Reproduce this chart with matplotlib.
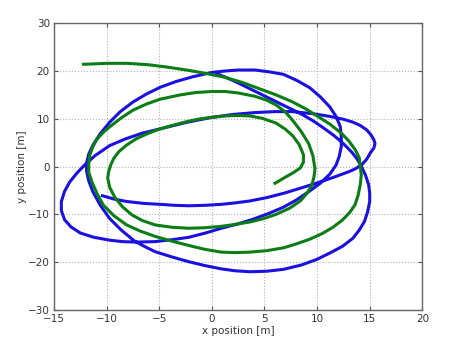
import matplotlib
matplotlib.use("Agg")
import matplotlib.pyplot as plt

# Blue trajectory points (x, y)
blue_pts = [
    (0.5, 19.4), (1.5, 18.5), (2.5, 17.5), (3.6, 16.3), (4.8, 15.0), (6.0, 13.7), (7.2, 12.4),
    (8.5, 11.0), (9.6, 9.6), (10.6, 8.1), (11.6, 6.5), (12.5, 4.8), (13.3, 3.0), (13.8, 1.6),
    (14.2, 0.1), (14.6, -1.8), (14.9, -3.8), (15.0, -5.6), (15.0, -7.3), (14.8, -9.5),
    (14.5, -11.5), (14.0, -13.3), (13.4, -15.0), (12.4, -16.7), (11.2, -18.1), (10.0, -19.4),
    (8.5, -20.6), (6.8, -21.5), (5.2, -21.9), (3.6, -22.0), (2.2, -21.8), (0.9, -21.4),
    (-0.7, -20.7), (-2.2, -19.9), (-3.8, -18.9), (-5.4, -17.8), (-6.5, -16.6), (-7.4, -15.5),
    (-8.6, -13.3), (-9.7, -10.9), (-10.6, -8.1), (-11.3, -5.3), (-11.7, -3.0), (-11.9, -1.0),
    (-11.9, 0.8), (-11.7, 2.6), (-11.3, 4.5), (-10.6, 6.9), (-9.7, 9.3), (-8.7, 11.5),
    (-7.5, 13.5), (-6.2, 15.2), (-4.9, 16.6), (-3.4, 17.8), (-1.8, 18.8), (0.0, 19.7),
    (1.3, 20.0), (2.5, 20.2), (4.1, 20.2), (5.5, 19.8), (6.8, 19.3), (8.1, 18.0), (9.3, 16.5),
    (10.3, 14.6), (11.2, 12.5), (11.8, 10.5), (12.2, 8.4), (12.3, 6.2), (12.3, 4.2),
    (12.1, 2.1), (11.8, 0.3), (11.2, -1.6), (10.3, -3.5), (9.3, -5.1), (8.1, -6.9),
    (6.8, -8.5), (5.3, -9.9), (3.8, -11.1), (2.3, -12.1), (0.9, -12.9), (-0.6, -13.9),
    (-2.2, -14.8), (-3.8, -15.3), (-5.4, -15.7), (-7.2, -15.8), (-8.5, -15.7), (-9.7, -15.4),
    (-11.2, -14.8), (-12.5, -13.9), (-13.4, -12.6), (-14.0, -11.1), (-14.3, -9.2),
    (-14.3, -7.3), (-14.0, -5.2), (-13.5, -3.2), (-12.8, -1.3), (-12.1, 0.3), (-11.1, 2.3),
    (-9.7, 4.4), (-8.2, 5.8), (-6.6, 7.0), (-4.9, 7.9), (-2.5, 9.2), (0.0, 10.3), (2.0, 10.9),
    (4.1, 11.3), (6.0, 11.5), (7.6, 11.5), (9.5, 11.1), (11.2, 10.5), (12.5, 9.9),
    (13.4, 9.3), (14.1, 8.6), (14.7, 7.7), (15.1, 6.7), (15.4, 5.6), (15.5, 4.8), (15.4, 3.9),
    (15.1, 3.0), (14.7, 1.5), (14.2, 0.3), (13.6, -0.5), (13.1, -1.0), (11.5, -2.3),
    (9.9, -3.5), (8.3, -4.6), (6.8, -5.6), (5.2, -6.5), (3.6, -7.2), (2.2, -7.6), (0.9, -7.9),
    (-0.6, -8.1), (-2.2, -8.2), (-3.6, -8.1), (-4.9, -7.9), (-6.5, -7.7), (-8.1, -7.3),
    (-9.3, -6.8), (-10.4, -6.1),
]

# Green trajectory points (x, y)
green_pts = [
    (-12.2, 21.4), (-11.0, 21.5), (-10.0, 21.6), (-8.0, 21.6), (-6.0, 21.3), (-4.2, 20.8),
    (-2.4, 20.2), (-0.6, 19.5), (1.2, 18.7), (2.9, 17.6), (4.5, 16.3), (6.1, 15.0), (7.6, 13.6),
    (8.9, 12.1), (10.0, 10.6), (11.2, 8.9), (12.3, 7.0), (13.0, 5.4), (13.6, 3.6), (14.0, 1.9),
    (14.1, 0.3), (14.2, -1.8), (14.1, -3.8), (13.9, -6.0), (13.6, -8.0), (13.1, -9.6),
    (12.4, -11.2), (11.5, -12.7), (10.5, -14.0), (9.3, -15.2), (8.0, -16.2), (6.8, -17.0),
    (5.2, -17.6), (3.6, -17.9), (2.2, -18.0), (0.9, -17.9), (-0.7, -17.3), (-2.2, -16.5),
    (-3.8, -15.6), (-5.4, -14.6), (-6.8, -13.5), (-8.1, -12.2), (-9.3, -10.3), (-10.3, -8.1),
    (-10.9, -5.7), (-11.4, -3.2), (-11.7, -1.2), (-11.7, 0.6), (-11.6, 2.4), (-11.3, 4.2),
    (-10.9, 5.8), (-10.3, 7.2), (-9.6, 8.5), (-8.6, 10.2), (-7.5, 11.8), (-6.2, 13.1),
    (-4.9, 14.1), (-3.0, 15.0), (-1.5, 15.5), (0.0, 15.7), (1.3, 15.7), (2.5, 15.4), (4.1, 14.7),
    (5.2, 13.9), (6.1, 12.9), (7.0, 11.4), (7.7, 9.6), (8.5, 7.3), (9.2, 4.8), (9.6, 2.3),
    (9.8, -0.5), (9.7, -2.2), (9.5, -3.9), (9.0, -5.7), (8.4, -7.2), (7.4, -8.7), (6.1, -10.0),
    (4.9, -10.9), (3.6, -11.6), (2.2, -12.1), (0.9, -12.5), (-0.7, -12.8), (-2.2, -12.9),
    (-3.8, -12.7), (-5.4, -12.2), (-6.6, -11.3), (-7.6, -10.1), (-8.5, -8.4), (-9.2, -6.5),
    (-9.7, -4.4), (-9.9, -2.4), (-9.8, -1.0), (-9.6, 0.4), (-9.3, 1.8), (-8.8, 3.2),
    (-8.1, 4.5), (-7.2, 5.8), (-6.1, 6.9), (-4.9, 7.9), (-3.6, 8.7), (-2.2, 9.5), (-1.1, 10.0),
    (0.0, 10.3), (1.3, 10.6), (2.5, 10.7), (3.6, 10.6), (4.8, 10.1), (6.1, 9.1), (7.0, 7.8),
    (7.7, 6.4), (8.3, 4.6), (8.7, 2.5), (8.7, 0.9), (8.4, -0.3), (7.8, -1.2), (7.0, -2.2),
    (6.0, -3.5),
]

blue_x = [p[0] for p in blue_pts]
blue_y = [p[1] for p in blue_pts]
green_x = [p[0] for p in green_pts]
green_y = [p[1] for p in green_pts]

x_ticks = [-15, -10, -5, 0, 5, 10, 15, 20]
y_ticks = [-30, -20, -10, 0, 10, 20, 30]

fig = plt.figure(figsize=(4.5, 3.41), dpi=100)
ax = fig.add_axes([0.12, 0.091, 0.8185, 0.841])
ax.plot(blue_x, blue_y, color="#1a10e0", lw=2.2, solid_joinstyle="round")
ax.plot(green_x, green_y, color="#0a7d14", lw=2.2, solid_joinstyle="round")
ax.set_xlim(-15, 20)
ax.set_ylim(-30, 30)
ax.set_xticks(x_ticks)
ax.set_yticks(y_ticks)
ax.grid(True, color="#b0b0b0", linestyle=":", linewidth=0.8)
ax.tick_params(direction="in", top=True, right=True, labelsize=7.5, length=3, color="#555555",
               labelcolor="#333333")
ax.tick_params(axis="x", pad=3)
ax.tick_params(axis="y", pad=3)
for s in ax.spines.values():
    s.set_color("#666666")
    s.set_linewidth(1.0)
ax.set_xlabel("x position [m]", fontsize=7.5, color="#333333", labelpad=1)
ax.set_ylabel("y position [m]", fontsize=7.5, color="#333333", labelpad=1)
fig.savefig("out.png", dpi=100)
